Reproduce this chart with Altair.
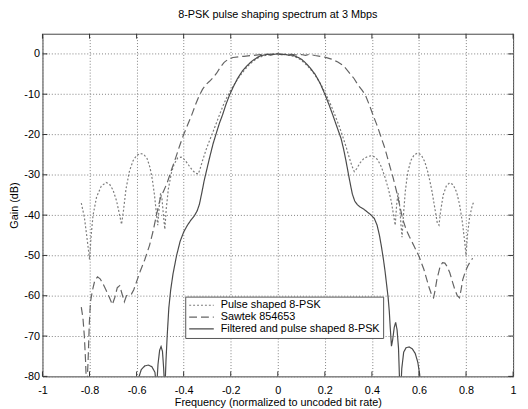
import altair as alt
import pandas as pd

S1 = "Pulse shaped 8-PSK"
S2 = "Sawtek 854653"
S3 = "Filtered and pulse shaped 8-PSK"
series_names = [S1, S2, S3]

# Pulse shaped 8-PSK (dotted)
pulse_f = [-0.835, -0.822, -0.81, -0.8, -0.793, -0.785, -0.77, -0.75, -0.73, -0.715, -0.70, -0.685,
           -0.672, -0.664, -0.656, -0.645, -0.63, -0.615, -0.60, -0.585, -0.57, -0.555, -0.543, -0.533,
           -0.524, -0.516, -0.51, -0.504, -0.498, -0.492, -0.486, -0.48, -0.474, -0.465, -0.452, -0.44,
           -0.425, -0.41, -0.395, -0.38, -0.365, -0.35, -0.338, -0.33, -0.32, -0.305, -0.29, -0.275,
           -0.26, -0.245, -0.23, -0.215, -0.2, -0.185, -0.17, -0.155, -0.14, -0.125, -0.11, -0.095,
           -0.08, -0.06, -0.04, -0.02, 0.0,
           0.02, 0.04, 0.06, 0.08, 0.095, 0.11, 0.125, 0.14, 0.155, 0.17, 0.185, 0.2, 0.215, 0.23,
           0.245, 0.26, 0.275, 0.29, 0.303, 0.315, 0.325, 0.335, 0.35, 0.365, 0.38, 0.395, 0.41,
           0.425, 0.44, 0.455, 0.47, 0.482, 0.492, 0.499, 0.505, 0.511, 0.517, 0.523, 0.528, 0.534,
           0.542, 0.552, 0.565, 0.58, 0.595, 0.61, 0.625, 0.64, 0.655, 0.668, 0.678, 0.685, 0.692,
           0.703, 0.716, 0.73, 0.745, 0.76, 0.773, 0.785, 0.795, 0.8, 0.806, 0.815, 0.827, 0.835]
pulse_db = [-37, -40.5, -46, -51, -45, -40, -35.5, -32.8, -31.9, -32.3, -33.8, -36.5,
            -40, -42.3, -39, -33.5, -29, -26.5, -25.2, -24.7, -24.9, -26, -28.2, -31.2,
            -35, -39.5, -42.5, -38, -34.5, -36, -40, -43.5, -38.5, -33.5, -29.5, -27.3,
            -25.8, -25.6, -26.3, -27.5, -28.7, -29.6, -29.8, -28.5, -26.5, -23.8, -21.5, -19.3,
            -17, -14.7, -12.5, -10.6, -9, -7.6, -6.2, -5, -3.9, -2.9, -2.1, -1.4,
            -0.9, -0.5, -0.2, -0.05, 0,
            -0.05, -0.2, -0.5, -0.9, -1.4, -2.1, -2.9, -3.9, -5, -6.3, -7.8, -9.5, -11.3, -13.3,
            -15.5, -17.8, -20.3, -23, -25.6, -27.8, -29.2, -28.5, -27, -26, -25.5, -25.3, -25.5,
            -26.3, -28, -30.5, -33.5, -36.5, -40, -42.5, -37.5, -34.5, -37, -42, -45.5, -40,
            -34, -29.5, -26.5, -25, -24.6, -25.1, -26.8, -29.8, -34, -38.5, -42, -42.5, -39,
            -35, -32.8, -32, -32.4, -34.3, -37.5, -42, -47, -50, -45, -40.5, -37.5, -36.5]

# Sawtek 854653 (dashed)
saw_f = [-0.835, -0.828, -0.822, -0.817, -0.812, -0.806, -0.801, -0.796, -0.788, -0.778, -0.766,
         -0.755, -0.743, -0.73, -0.715, -0.703, -0.693, -0.682, -0.672, -0.662, -0.652, -0.643,
         -0.633, -0.622, -0.612, -0.6, -0.585, -0.565, -0.545, -0.53, -0.515, -0.5, -0.485, -0.47,
         -0.452, -0.434, -0.417, -0.4, -0.383, -0.366, -0.349, -0.335, -0.32, -0.305, -0.29, -0.275,
         -0.26, -0.245, -0.228, -0.21, -0.19, -0.165, -0.144, -0.11, -0.075, -0.04, 0.0,
         0.03, 0.06, 0.085, 0.1, 0.118, 0.135, 0.158, 0.18, 0.2, 0.228, 0.255, 0.28, 0.3, 0.324,
         0.342, 0.358, 0.372, 0.39, 0.405, 0.421, 0.438, 0.455, 0.472, 0.49, 0.505, 0.517, 0.531,
         0.545, 0.559, 0.58, 0.6, 0.621, 0.641, 0.654, 0.662, 0.669, 0.676, 0.69, 0.7, 0.71, 0.72,
         0.731, 0.742, 0.752, 0.763, 0.772, 0.779, 0.786, 0.797, 0.807, 0.818, 0.828]
saw_db = [-62.8, -65.5, -70, -76, -84, -76, -67, -61.5, -58.8, -56.3, -55.3,
          -55.8, -57, -58.6, -60.5, -62.2, -60.5, -58, -57.5, -59.5, -61.5, -60,
          -59.8, -59.6, -58.5, -56.5, -54, -51, -47.5, -44, -39.8, -36, -34, -32,
          -28.8, -25.8, -22.8, -20, -17.6, -15.2, -12.5, -10.5, -8.8, -7.6, -6.8, -5.9,
          -4.8, -3.4, -2.1, -1.3, -0.9, -0.7, -0.6, -0.4, -0.2, -0.1, 0,
          -0.2, -0.1, -0.3, -0.15, -0.35, -0.1, -0.4, -0.6, -0.8, -1.3, -2, -3, -4.4, -6.1,
          -7.8, -9, -10.2, -12.8, -15.2, -17.6, -20.5, -23.4, -27, -30.7, -34.2, -37.3, -41,
          -43.5, -45.3, -47.8, -50.2, -53.5, -57.6, -59.8, -60.5, -58.5, -56, -52.7, -51.8, -51.9, -52.8,
          -54.3, -56.5, -58.4, -60, -60.5, -58.5, -56, -54, -52.7, -51.5, -50.7]

# Filtered and pulse shaped 8-PSK (solid)
filt_f = [-0.6, -0.592, -0.58, -0.565, -0.55, -0.535, -0.522, -0.515, -0.509, -0.502, -0.496,
          -0.49, -0.485, -0.48, -0.475, -0.47, -0.463, -0.455, -0.445, -0.43, -0.415, -0.40,
          -0.385, -0.37, -0.355, -0.343, -0.333, -0.323, -0.313, -0.303, -0.29, -0.275, -0.262,
          -0.248, -0.234, -0.22, -0.205, -0.19, -0.171, -0.15, -0.13, -0.11, -0.09, -0.075, -0.06,
          -0.045, -0.03, -0.015, 0.0, 0.015, 0.03, 0.045, 0.062, 0.08, 0.1, 0.116, 0.135, 0.158,
          0.18, 0.2, 0.217, 0.234, 0.252, 0.269, 0.28, 0.29, 0.297, 0.303, 0.31, 0.317, 0.327,
          0.338, 0.35, 0.365, 0.38, 0.395, 0.41, 0.422, 0.432, 0.441, 0.449, 0.456, 0.463, 0.469,
          0.474, 0.478, 0.483, 0.488, 0.495, 0.501, 0.507, 0.513, 0.518, 0.522, 0.527, 0.535,
          0.545, 0.558, 0.572, 0.584, 0.595, 0.603, 0.61]
filt_db = [-86, -80.5, -78.3, -77.4, -77.2, -77.6, -79, -83, -77, -73.5, -72.6,
           -73.8, -78, -84, -76, -70, -63, -58.5, -54.5, -50, -46.5, -44.2,
           -42.6, -41.3, -40.2, -39, -37.3, -34.5, -31.5, -29, -25.8, -22.3, -19.8,
           -17.2, -15, -12.5, -10.2, -8.3, -6.1, -4.2, -2.9, -1.8, -1.0, -0.5, -0.3,
           -0.1, -0.3, -0.1, 0, -0.2, -0.1, -0.3, -0.3, -0.7, -1.3, -2.1, -3.3, -5,
           -7.3, -10, -12.5, -15.2, -18.2, -21, -23.7, -26.6, -28.8, -30.7, -32.8, -34.8, -36.5,
           -37.4, -38, -38.5, -39.2, -39.9, -40.8, -42.5, -45, -48, -51, -54, -57.5, -60.5,
           -64, -68, -72.5, -71, -67.8, -66.6, -68.5, -73, -82, -84, -78, -74,
           -72.9, -72.7, -73.2, -74.3, -76.5, -79.5, -86]

x_ticks = [-1, -0.8, -0.6, -0.4, -0.2, 0, 0.2, 0.4, 0.6, 0.8, 1]
y_ticks = [-80, -70, -60, -50, -40, -30, -20, -10, 0]

line_colors = ["#7c7c7c", "#646464", "#4a4a4a"]
line_dashes = [[2, 2], [8, 4], [1, 0]]

rows = []
for name, fs, ds in [(S1, pulse_f, pulse_db), (S2, saw_f, saw_db), (S3, filt_f, filt_db)]:
    for i, (f, d) in enumerate(zip(fs, ds)):
        rows.append({"series": name, "f": f, "gain": d, "idx": i})
df = pd.DataFrame(rows)

FONT = "Liberation Sans"
W, H = 478, 348

leg = alt.Legend(
    title=None, orient="none", legendX=145, legendY=267,
    symbolType="stroke", symbolSize=625, symbolStrokeWidth=1.2,
    clipHeight=11.5, rowPadding=-2.5, labelFontSize=11, labelFont=FONT,
    labelColor="#000", labelOffset=6, labelLimit=400, padding=3,
    strokeColor="#555", fillColor="white",
)

lines = alt.Chart(df).mark_line(clip=True, strokeWidth=1.2).encode(
    x=alt.X("f:Q", scale=alt.Scale(domain=[-1, 1], nice=False, zero=False),
            axis=alt.Axis(values=x_ticks, labelExpr="toString(datum.value)",
                          title="Frequency (normalized to uncoded bit rate)")),
    y=alt.Y("gain:Q", scale=alt.Scale(domain=[-80, 5], nice=False, zero=False),
            axis=alt.Axis(values=y_ticks, labelExpr="toString(datum.value)",
                          title="Gain (dB)")),
    color=alt.Color("series:N", scale=alt.Scale(domain=series_names, range=line_colors), legend=leg),
    strokeDash=alt.StrokeDash("series:N", scale=alt.Scale(domain=series_names, range=line_dashes), legend=leg),
    order="idx:Q",
)

xt = pd.DataFrame({"f": x_ticks})
yt = pd.DataFrame({"gain": y_ticks})
tick_color = "#333"
bottom_ticks = alt.Chart(xt).mark_rule(color=tick_color, strokeWidth=1).encode(
    x="f:Q", y=alt.value(H), y2=alt.value(H - 5))
top_ticks = alt.Chart(xt).mark_rule(color=tick_color, strokeWidth=1).encode(
    x="f:Q", y=alt.value(0), y2=alt.value(5))
left_ticks = alt.Chart(yt).mark_rule(color=tick_color, strokeWidth=1).encode(
    y="gain:Q", x=alt.value(0), x2=alt.value(5))
right_ticks = alt.Chart(yt).mark_rule(color=tick_color, strokeWidth=1).encode(
    y="gain:Q", x=alt.value(W), x2=alt.value(W - 5))

chart = alt.layer(lines, bottom_ticks, top_ticks, left_ticks, right_ticks).properties(
    width=W, height=H,
    title="8-PSK pulse shaping spectrum at 3 Mbps",
    autosize=alt.AutoSizeParams(type="none"),
    padding={"left": 35, "top": 23, "right": 7, "bottom": 30},
).configure_axis(
    labelFont=FONT, titleFont=FONT, labelFontSize=11, titleFontSize=11,
    titleFontWeight="normal", labelColor="#000", titleColor="#000",
    grid=True, gridColor="#808080", gridDash=[1, 2], gridOpacity=1,
    domain=False, ticks=False, tickSize=0, labelFlush=False, labelOverlap=False,
).configure_axisX(
    labelPadding=8, titlePadding=2,
).configure_axisY(
    labelPadding=3, titlePadding=4,
).configure_view(
    stroke="#444", strokeWidth=1,
).configure_title(
    font=FONT, fontSize=11, fontWeight="normal", color="#000", offset=13,
)

chart.save("out.html", embed_options={"renderer": "svg", "actions": False})
